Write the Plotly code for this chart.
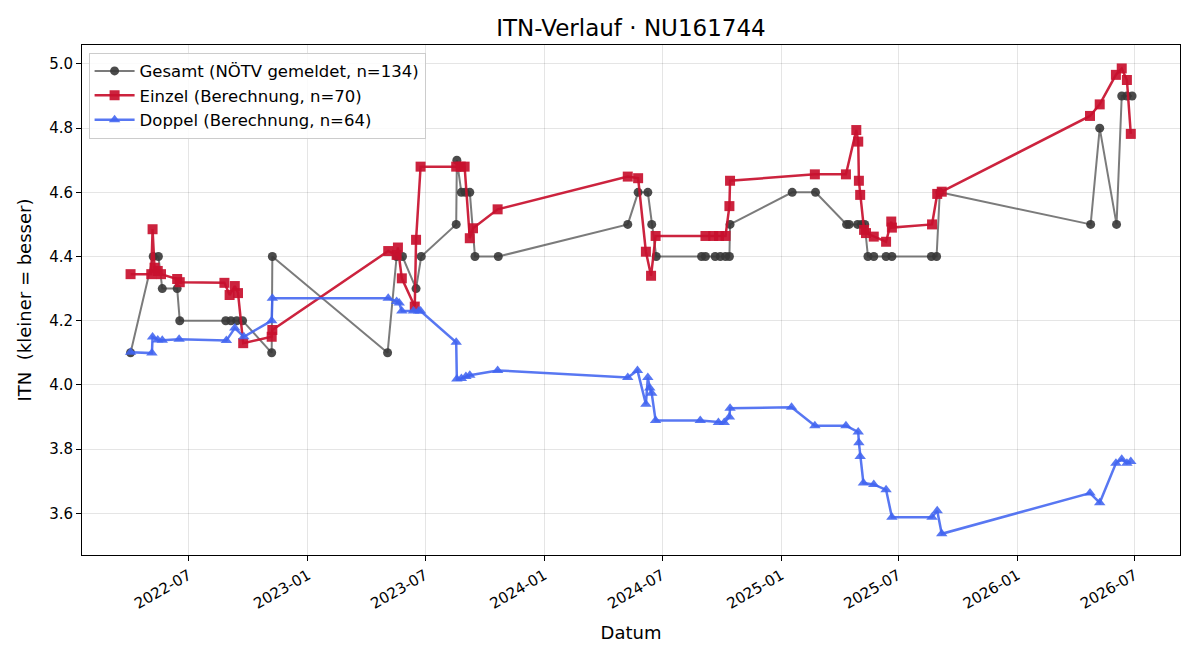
import plotly.graph_objects as go

# ---- Gesamt (NÖTV gemeldet)
ges_dates = ["2022-04-02", "2022-05-07", "2022-05-15", "2022-05-21", "2022-06-13", "2022-06-17",
             "2022-08-27", "2022-09-04", "2022-09-13", "2022-09-22", "2022-11-06", "2022-11-07",
             "2023-05-04", "2023-05-18", "2023-05-27", "2023-06-17", "2023-06-25", "2023-08-18",
             "2023-08-19", "2023-08-26", "2023-09-01", "2023-09-08", "2023-09-16", "2023-10-22",
             "2024-05-09", "2024-05-25", "2024-06-09", "2024-06-15", "2024-06-22", "2024-08-31",
             "2024-09-06", "2024-09-21", "2024-09-29", "2024-10-07", "2024-10-13", "2024-10-14",
             "2025-01-18", "2025-02-23", "2025-04-12", "2025-04-16", "2025-04-29", "2025-05-05",
             "2025-05-10", "2025-05-15", "2025-05-24", "2025-06-12", "2025-06-21", "2025-08-21",
             "2025-08-29", "2025-09-03", "2026-04-24", "2026-05-08", "2026-06-03", "2026-06-11",
             "2026-06-19", "2026-06-27"]
ges_vals = [4.1, 4.4, 4.4, 4.3, 4.3, 4.2,
            4.2, 4.2, 4.2, 4.2, 4.1, 4.4,
            4.1, 4.4, 4.4, 4.3, 4.4, 4.5,
            4.7, 4.6, 4.6, 4.6, 4.4, 4.4,
            4.5, 4.6, 4.6, 4.5, 4.4, 4.4,
            4.4, 4.4, 4.4, 4.4, 4.4, 4.5,
            4.6, 4.6, 4.5, 4.5, 4.5, 4.5,
            4.5, 4.4, 4.4, 4.4, 4.4, 4.4,
            4.4, 4.6, 4.5, 4.8, 4.5, 4.9,
            4.9, 4.9]

# ---- Einzel (Berechnung)
ein_dates = ["2022-04-02", "2022-05-04", "2022-05-06", "2022-05-09", "2022-05-14", "2022-05-19",
             "2022-06-13", "2022-06-17", "2022-08-25", "2022-09-02", "2022-09-10", "2022-09-15",
             "2022-09-23", "2022-11-06", "2022-11-07", "2023-05-05", "2023-05-18", "2023-05-20",
             "2023-05-26", "2023-06-15", "2023-06-17", "2023-06-24", "2023-08-18", "2023-08-25",
             "2023-08-31", "2023-09-08", "2023-09-13", "2023-10-21", "2024-05-09", "2024-05-25",
             "2024-06-06", "2024-06-14", "2024-06-21", "2024-09-06", "2024-09-18", "2024-09-27",
             "2024-10-07", "2024-10-13", "2024-10-14", "2025-02-22", "2025-04-11", "2025-04-27",
             "2025-04-30", "2025-05-01", "2025-05-03", "2025-05-09", "2025-05-12", "2025-05-24",
             "2025-06-12", "2025-06-20", "2025-06-21", "2025-08-22", "2025-08-30", "2025-09-06",
             "2026-04-23", "2026-05-08", "2026-06-02", "2026-06-11", "2026-06-19", "2026-06-25"]
ein_vals = [4.345, 4.345, 4.485, 4.365, 4.355, 4.345,
            4.330, 4.320, 4.318, 4.280, 4.308, 4.286,
            4.130, 4.150, 4.171, 4.417, 4.405, 4.428,
            4.332, 4.244, 4.452, 4.680, 4.680, 4.680,
            4.680, 4.457, 4.488, 4.547, 4.649, 4.644,
            4.415, 4.340, 4.464, 4.464, 4.464, 4.464,
            4.464, 4.557, 4.636, 4.656, 4.656, 4.794,
            4.758, 4.636, 4.592, 4.483, 4.473, 4.462,
            4.446, 4.509, 4.490, 4.500, 4.595, 4.602,
            4.838, 4.874, 4.966, 4.986, 4.950, 4.782]

# ---- Doppel (Berechnung)
dop_dates = ["2022-04-02", "2022-05-05", "2022-05-06", "2022-05-14", "2022-05-21", "2022-06-16",
             "2022-08-28", "2022-09-10", "2022-09-24", "2022-11-06", "2022-11-07", "2023-05-05",
             "2023-05-18", "2023-05-22", "2023-05-26", "2023-06-13", "2023-06-21", "2023-06-24",
             "2023-08-18", "2023-08-19", "2023-08-26", "2023-09-02", "2023-09-08", "2023-10-21",
             "2024-05-09", "2024-05-24", "2024-06-06", "2024-06-09", "2024-06-12", "2024-06-15",
             "2024-06-21", "2024-08-29", "2024-09-26", "2024-10-05", "2024-10-13", "2024-10-14",
             "2025-01-17", "2025-02-22", "2025-04-11", "2025-04-30", "2025-05-01", "2025-05-03",
             "2025-05-08", "2025-05-24", "2025-06-12", "2025-06-21", "2025-08-22", "2025-08-30",
             "2025-09-06", "2026-04-23", "2026-05-08", "2026-06-02", "2026-06-11", "2026-06-19",
             "2026-06-25"]
dop_vals = [4.102, 4.099, 4.149, 4.140, 4.139, 4.142,
            4.138, 4.177, 4.150, 4.200, 4.270, 4.270,
            4.260, 4.255, 4.230, 4.230, 4.230, 4.230,
            4.133, 4.018, 4.020, 4.026, 4.030, 4.045,
            4.023, 4.045, 3.940, 4.023, 3.990, 3.974,
            3.889, 3.889, 3.883, 3.883, 3.900, 3.927,
            3.930, 3.873, 3.873, 3.853, 3.820, 3.777,
            3.694, 3.690, 3.673, 3.588, 3.588, 3.608,
            3.536, 3.663, 3.633, 3.756, 3.768, 3.756,
            3.761]

fig = go.Figure()
fig.add_trace(go.Scatter(
    x=ges_dates, y=ges_vals, mode="lines+markers",
    name="Gesamt (NÖTV gemeldet, n=134)",
    line=dict(color="rgba(90,90,90,0.8)", width=2),
    marker=dict(symbol="circle", size=9, color="rgba(55,55,55,0.9)",
                line=dict(width=0)),
))
fig.add_trace(go.Scatter(
    x=ein_dates, y=ein_vals, mode="lines+markers",
    name="Einzel (Berechnung, n=70)",
    line=dict(color="rgba(200,16,46,0.92)", width=2.5),
    marker=dict(symbol="square", size=10, color="rgba(200,16,46,0.92)",
                line=dict(width=0)),
))
fig.add_trace(go.Scatter(
    x=dop_dates, y=dop_vals, mode="lines+markers",
    name="Doppel (Berechnung, n=64)",
    line=dict(color="rgba(65,100,240,0.88)", width=2.5),
    marker=dict(symbol="triangle-up", size=10, color="rgba(65,100,240,0.88)",
                line=dict(width=0)),
))

font_family = "DejaVu Sans"
fig.update_layout(
    width=1200, height=660,
    margin=dict(l=82, r=20, t=45, b=105),
    paper_bgcolor="white", plot_bgcolor="white",
    font=dict(family=font_family, size=15, color="black"),
    title=dict(text="ITN-Verlauf · NU161744", xref="paper", x=0.5, xanchor="center",
               y=0.958, yanchor="middle", font=dict(size=23)),
    showlegend=True,
    legend=dict(x=0.006, y=0.985, xanchor="left", yanchor="top",
                bgcolor="rgba(255,255,255,0.85)", bordercolor="#cccccc",
                borderwidth=1, font=dict(size=16.5), tracegroupgap=0,
                itemwidth=40),
)
fig.update_xaxes(
    type="date", range=["2022-01-17", "2026-09-09"],
    tick0="2022-07-01", dtick="M6", tickformat="%Y-%m", tickangle=-30,
    showgrid=True, gridcolor="rgba(0,0,0,0.1)", gridwidth=1,
    showline=True, linecolor="black", linewidth=1, mirror=True,
    ticks="outside", ticklen=5, tickcolor="black",
    tickfont=dict(size=15),
    title=dict(text="Datum", font=dict(size=18), standoff=14),
    zeroline=False,
)
fig.update_yaxes(
    range=[3.47, 5.059], dtick=0.2, tick0=0, tickformat=".1f",
    showgrid=True, gridcolor="rgba(0,0,0,0.1)", gridwidth=1,
    showline=True, linecolor="black", linewidth=1, mirror=True,
    ticks="outside", ticklen=5, tickcolor="black",
    tickfont=dict(size=15),
    title=dict(text="ITN\u00a0 (kleiner = besser)", font=dict(size=18), standoff=12),
    zeroline=False,
)

fig.write_html("out.html")
